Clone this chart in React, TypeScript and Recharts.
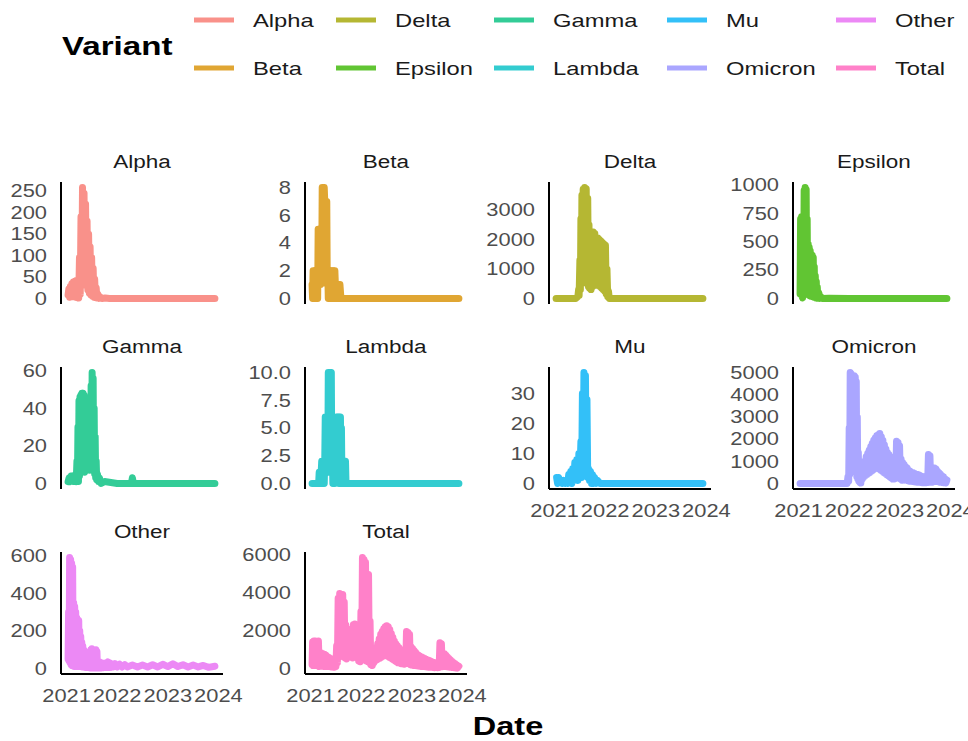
import React from 'react';
import { LineChart, Line, XAxis, YAxis } from 'recharts';

type Pt = [number, number];

// ---- data -------------------------------------------------------------
const variants = ['Alpha', 'Beta', 'Delta', 'Epsilon', 'Gamma', 'Lambda', 'Mu', 'Omicron', 'Other', 'Total'];
const variantColors = ['#F8766D', '#D89000', '#A3A500', '#39B600', '#00BF7D', '#00BFC4', '#00B0F6', '#9590FF', '#E76BF3', '#FF62BC'];

const yearTicks = [2021, 2022, 2023, 2024];

const alphaTicks = [0, 50, 100, 150, 200, 250];
const betaTicks = [0, 2, 4, 6, 8];
const deltaTicks = [0, 1000, 2000, 3000];
const epsilonTicks = [0, 250, 500, 750, 1000];
const gammaTicks = [0, 20, 40, 60];
const lambdaTicks = [0, 2.5, 5, 7.5, 10];
const muTicks = [0, 10, 20, 30];
const omicronTicks = [0, 1000, 2000, 3000, 4000, 5000];
const otherTicks = [0, 200, 400, 600];
const totalTicks = [0, 2000, 4000, 6000];

// [decimal year, sequences]
const alpha: Pt[] = [
  [2021.03, 8], [2021.045, 22], [2021.06, 3], [2021.075, 28], [2021.09, 5], [2021.105, 34], [2021.12, 4],
  [2021.135, 38], [2021.15, 6], [2021.165, 40], [2021.18, 3], [2021.195, 42], [2021.21, 2], [2021.225, 40],
  [2021.24, 1], [2021.255, 95], [2021.27, 10], [2021.285, 190], [2021.3, 35], [2021.315, 258], [2021.33, 50],
  [2021.345, 245], [2021.36, 45], [2021.375, 220], [2021.39, 30], [2021.405, 180], [2021.42, 20], [2021.435, 150],
  [2021.45, 12], [2021.465, 120], [2021.48, 8], [2021.495, 95], [2021.51, 5], [2021.525, 70], [2021.54, 3],
  [2021.555, 45], [2021.57, 2], [2021.585, 25], [2021.6, 1], [2021.62, 10], [2021.64, 0], [2021.67, 3],
  [2021.7, 0], [2021.76, 1], [2021.85, 0], [2022.3, 0], [2022.9, 0], [2023.4, 0], [2023.93, 0],
];

const beta: Pt[] = [
  [2021.03, 1], [2021.04, 0], [2021.05, 2], [2021.06, 0], [2021.07, 2], [2021.08, 1], [2021.09, 2], [2021.1, 0],
  [2021.11, 2], [2021.12, 1], [2021.13, 2], [2021.14, 0], [2021.15, 5], [2021.16, 1], [2021.17, 5], [2021.18, 2],
  [2021.19, 5], [2021.2, 1], [2021.21, 5], [2021.22, 2], [2021.23, 8], [2021.24, 3], [2021.25, 8], [2021.26, 2],
  [2021.27, 8], [2021.28, 7], [2021.29, 3], [2021.3, 7], [2021.31, 2], [2021.32, 7], [2021.33, 1], [2021.34, 2],
  [2021.35, 0], [2021.36, 2], [2021.37, 1], [2021.38, 2], [2021.39, 0], [2021.4, 2], [2021.41, 1], [2021.42, 2],
  [2021.43, 0], [2021.44, 2], [2021.45, 1], [2021.46, 2], [2021.47, 0], [2021.48, 2], [2021.49, 1], [2021.5, 1],
  [2021.51, 0], [2021.52, 1], [2021.53, 0], [2021.54, 1], [2021.55, 0], [2021.56, 1], [2021.57, 0], [2021.58, 1],
  [2021.6, 0], [2022.2, 0], [2023.0, 0], [2023.93, 0],
];

const delta: Pt[] = [
  [2021.03, 0], [2021.2, 0], [2021.42, 0], [2021.46, 60], [2021.475, 300], [2021.485, 100], [2021.5, 1300],
  [2021.51, 300], [2021.52, 2700], [2021.53, 500], [2021.54, 3500], [2021.55, 600], [2021.565, 3700],
  [2021.58, 700], [2021.595, 3760], [2021.61, 600], [2021.625, 3720], [2021.64, 500], [2021.655, 3400],
  [2021.67, 400], [2021.68, 2500], [2021.69, 350], [2021.705, 1600], [2021.72, 300], [2021.735, 2150],
  [2021.75, 400], [2021.765, 2250], [2021.78, 450], [2021.795, 2200], [2021.81, 500], [2021.825, 1900],
  [2021.84, 450], [2021.855, 2050], [2021.87, 500], [2021.885, 2000], [2021.9, 400], [2021.915, 1950],
  [2021.93, 350], [2021.945, 1900], [2021.96, 300], [2021.975, 1850], [2021.99, 250], [2022.005, 1800],
  [2022.02, 150], [2022.035, 1000], [2022.05, 60], [2022.065, 250], [2022.08, 0], [2022.5, 0], [2023.2, 0],
  [2023.93, 0],
];

const epsilon: Pt[] = [
  [2021.03, 40], [2021.04, 700], [2021.05, 50], [2021.06, 720], [2021.07, 20], [2021.08, 5], [2021.09, 300],
  [2021.1, 30], [2021.11, 950], [2021.12, 60], [2021.13, 977], [2021.14, 80], [2021.15, 960], [2021.16, 50],
  [2021.17, 700], [2021.18, 40], [2021.19, 480], [2021.2, 30], [2021.21, 450], [2021.22, 25], [2021.23, 420],
  [2021.24, 20], [2021.25, 390], [2021.26, 20], [2021.27, 380], [2021.28, 15], [2021.29, 360], [2021.3, 10],
  [2021.31, 280], [2021.32, 8], [2021.33, 200], [2021.34, 5], [2021.35, 150], [2021.36, 3], [2021.37, 100],
  [2021.38, 2], [2021.4, 50], [2021.42, 1], [2021.44, 15], [2021.47, 0], [2021.6, 2], [2022.0, 0],
  [2022.8, 0], [2023.5, 0], [2023.93, 0],
];

const gamma: Pt[] = [
  [2021.03, 1], [2021.05, 3], [2021.07, 1], [2021.09, 4], [2021.11, 2], [2021.13, 4], [2021.15, 1], [2021.17, 3],
  [2021.19, 1], [2021.205, 12], [2021.215, 2], [2021.225, 30], [2021.235, 1], [2021.245, 44], [2021.255, 4],
  [2021.265, 46], [2021.275, 6], [2021.285, 47], [2021.295, 8], [2021.305, 48], [2021.315, 7], [2021.325, 48],
  [2021.335, 8], [2021.345, 47], [2021.355, 6], [2021.365, 46], [2021.375, 7], [2021.385, 44], [2021.395, 8],
  [2021.405, 36], [2021.415, 9], [2021.425, 30], [2021.435, 8], [2021.445, 42], [2021.455, 7], [2021.465, 38],
  [2021.475, 9], [2021.485, 52], [2021.495, 8], [2021.505, 59], [2021.515, 10], [2021.525, 56], [2021.535, 8],
  [2021.545, 40], [2021.555, 5], [2021.565, 25], [2021.575, 3], [2021.585, 12], [2021.595, 2], [2021.61, 5],
  [2021.63, 1], [2021.65, 3], [2021.68, 0], [2021.75, 1], [2022.0, 0], [2022.28, 0], [2022.3, 3], [2022.32, 0],
  [2022.8, 0], [2023.93, 0],
];

const lambda: Pt[] = [
  [2021.03, 0], [2021.1, 0], [2021.16, 0], [2021.17, 1], [2021.18, 0], [2021.19, 1], [2021.2, 0], [2021.21, 1],
  [2021.22, 2], [2021.23, 0], [2021.24, 2], [2021.25, 1], [2021.26, 2], [2021.27, 0], [2021.28, 2], [2021.29, 6],
  [2021.3, 1], [2021.31, 6], [2021.32, 2], [2021.33, 6], [2021.34, 1], [2021.35, 10], [2021.36, 2], [2021.37, 10],
  [2021.38, 1], [2021.39, 10], [2021.4, 2], [2021.41, 10], [2021.42, 1], [2021.43, 3], [2021.44, 0], [2021.45, 2],
  [2021.46, 1], [2021.47, 3], [2021.48, 0], [2021.49, 2], [2021.5, 1], [2021.51, 6], [2021.52, 1], [2021.53, 6],
  [2021.54, 2], [2021.55, 6], [2021.56, 0], [2021.57, 6], [2021.58, 1], [2021.59, 6], [2021.6, 2], [2021.61, 5],
  [2021.62, 0], [2021.63, 2], [2021.64, 1], [2021.65, 2], [2021.66, 0], [2021.67, 2], [2021.68, 1], [2021.69, 2],
  [2021.7, 0], [2022.0, 0], [2022.8, 0], [2023.93, 0],
];

const mu: Pt[] = [
  [2021.04, 2], [2021.06, 0], [2021.08, 2], [2021.1, 1], [2021.12, 1], [2021.15, 0], [2021.18, 1], [2021.21, 0],
  [2021.24, 1], [2021.26, 0], [2021.28, 3], [2021.3, 1], [2021.32, 4], [2021.34, 0], [2021.36, 5], [2021.38, 1],
  [2021.4, 7], [2021.42, 2], [2021.44, 8], [2021.46, 1], [2021.48, 10], [2021.5, 3], [2021.52, 14], [2021.535, 2],
  [2021.55, 30], [2021.565, 4], [2021.58, 37], [2021.595, 5], [2021.61, 36], [2021.625, 3], [2021.64, 28],
  [2021.655, 2], [2021.67, 5], [2021.69, 1], [2021.71, 4], [2021.73, 0], [2021.75, 3], [2021.77, 0],
  [2021.79, 2], [2021.82, 0], [2021.85, 1], [2021.9, 0], [2022.0, 0], [2022.5, 0], [2023.0, 0], [2023.93, 0],
];

const omicron: Pt[] = [
  [2021.03, 0], [2021.5, 0], [2021.96, 0], [2021.975, 300], [2021.99, 100], [2022.0, 2500], [2022.01, 400],
  [2022.02, 5000], [2022.03, 800], [2022.04, 4950], [2022.05, 900], [2022.06, 4700], [2022.07, 700],
  [2022.08, 4850], [2022.09, 800], [2022.1, 4850], [2022.11, 600], [2022.12, 4800], [2022.13, 500],
  [2022.14, 4600], [2022.15, 300], [2022.16, 3000], [2022.17, 200], [2022.18, 1400], [2022.19, 100],
  [2022.2, 800], [2022.21, 50], [2022.22, 600], [2022.23, 20], [2022.245, 700], [2022.26, 200], [2022.275, 800],
  [2022.29, 300], [2022.305, 1000], [2022.32, 350], [2022.335, 1200], [2022.35, 400], [2022.365, 1350],
  [2022.38, 450], [2022.395, 1500], [2022.41, 500], [2022.425, 1650], [2022.44, 550], [2022.455, 1800],
  [2022.47, 600], [2022.485, 1950], [2022.5, 650], [2022.515, 2050], [2022.53, 700], [2022.545, 2150],
  [2022.56, 700], [2022.575, 2200], [2022.59, 650], [2022.605, 2250], [2022.62, 600], [2022.635, 2100],
  [2022.65, 550], [2022.665, 1950], [2022.68, 500], [2022.695, 1750], [2022.71, 450], [2022.725, 1550],
  [2022.74, 400], [2022.755, 1400], [2022.77, 350], [2022.785, 1300], [2022.8, 300], [2022.815, 1200],
  [2022.83, 250], [2022.845, 1050], [2022.86, 200], [2022.875, 900], [2022.89, 200], [2022.905, 800],
  [2022.92, 250], [2022.935, 1900], [2022.95, 300], [2022.965, 1850], [2022.98, 250], [2022.995, 1700],
  [2023.01, 200], [2023.025, 1100], [2023.04, 150], [2023.055, 950], [2023.07, 150], [2023.085, 850],
  [2023.1, 150], [2023.115, 750], [2023.13, 150], [2023.145, 700], [2023.16, 120], [2023.175, 600],
  [2023.19, 100], [2023.205, 550], [2023.22, 100], [2023.235, 500], [2023.25, 90], [2023.265, 480],
  [2023.28, 80], [2023.295, 450], [2023.31, 70], [2023.325, 420], [2023.34, 60], [2023.355, 400], [2023.37, 50],
  [2023.385, 380], [2023.4, 50], [2023.415, 350], [2023.43, 40], [2023.445, 320], [2023.46, 30], [2023.475, 300],
  [2023.49, 30], [2023.505, 280], [2023.52, 30], [2023.535, 300], [2023.55, 40], [2023.565, 1300], [2023.58, 80],
  [2023.595, 1250], [2023.61, 60], [2023.625, 400], [2023.64, 50], [2023.655, 500], [2023.67, 80],
  [2023.685, 700], [2023.7, 100], [2023.715, 650], [2023.73, 90], [2023.745, 550], [2023.76, 80],
  [2023.775, 480], [2023.79, 60], [2023.805, 420], [2023.82, 50], [2023.835, 350], [2023.85, 40],
  [2023.865, 300], [2023.88, 30], [2023.895, 220], [2023.91, 20], [2023.93, 150],
];

const other: Pt[] = [
  [2021.03, 50], [2021.04, 300], [2021.05, 40], [2021.06, 590], [2021.07, 30], [2021.08, 580], [2021.09, 20],
  [2021.1, 560], [2021.11, 15], [2021.12, 540], [2021.13, 20], [2021.14, 350], [2021.15, 10], [2021.16, 330],
  [2021.17, 15], [2021.18, 300], [2021.19, 10], [2021.2, 270], [2021.21, 20], [2021.22, 260], [2021.23, 15],
  [2021.24, 255], [2021.25, 10], [2021.26, 200], [2021.27, 15], [2021.28, 170], [2021.29, 10], [2021.3, 140],
  [2021.31, 8], [2021.32, 120], [2021.33, 10], [2021.34, 100], [2021.35, 8], [2021.36, 90], [2021.37, 6],
  [2021.38, 80], [2021.39, 5], [2021.4, 70], [2021.41, 5], [2021.42, 60], [2021.43, 5], [2021.44, 50],
  [2021.45, 4], [2021.46, 60], [2021.47, 3], [2021.48, 100], [2021.49, 4], [2021.5, 105], [2021.51, 3],
  [2021.52, 60], [2021.53, 2], [2021.54, 50], [2021.55, 3], [2021.56, 95], [2021.57, 2], [2021.58, 100],
  [2021.59, 3], [2021.6, 90], [2021.61, 2], [2021.62, 40], [2021.64, 3], [2021.66, 35], [2021.68, 2],
  [2021.7, 30], [2021.72, 4], [2021.74, 28], [2021.76, 5], [2021.78, 30], [2021.8, 6], [2021.82, 35],
  [2021.84, 5], [2021.86, 30], [2021.88, 6], [2021.9, 25], [2021.93, 8], [2021.96, 25], [2022.0, 8],
  [2022.05, 22], [2022.1, 8], [2022.15, 20], [2022.2, 8], [2022.3, 18], [2022.4, 8], [2022.5, 18], [2022.6, 8],
  [2022.7, 20], [2022.8, 8], [2022.9, 22], [2023.0, 10], [2023.1, 25], [2023.2, 10], [2023.3, 20], [2023.4, 8],
  [2023.5, 18], [2023.6, 8], [2023.7, 16], [2023.8, 6], [2023.93, 12],
];

const total: Pt[] = [
  [2021.03, 200], [2021.04, 1400], [2021.05, 150], [2021.065, 1450], [2021.08, 200], [2021.095, 1450],
  [2021.11, 150], [2021.125, 1400], [2021.14, 200], [2021.155, 1450], [2021.17, 100], [2021.185, 850],
  [2021.2, 150], [2021.215, 820], [2021.23, 120], [2021.245, 780], [2021.26, 100], [2021.275, 750],
  [2021.29, 120], [2021.305, 700], [2021.32, 100], [2021.335, 620], [2021.35, 120], [2021.365, 580],
  [2021.38, 100], [2021.395, 520], [2021.41, 80], [2021.425, 480], [2021.44, 90], [2021.455, 300],
  [2021.47, 60], [2021.485, 420], [2021.5, 100], [2021.515, 1200], [2021.53, 300], [2021.545, 3700],
  [2021.56, 600], [2021.575, 3950], [2021.59, 650], [2021.605, 3900], [2021.62, 700], [2021.635, 3900],
  [2021.65, 600], [2021.665, 3500], [2021.68, 550], [2021.695, 2300], [2021.71, 500], [2021.725, 2100],
  [2021.74, 600], [2021.755, 2000], [2021.77, 650], [2021.785, 1950], [2021.8, 600], [2021.815, 2000],
  [2021.83, 550], [2021.845, 2300], [2021.86, 600], [2021.875, 2350], [2021.89, 650], [2021.905, 2300],
  [2021.92, 550], [2021.935, 2250], [2021.95, 400], [2021.965, 900], [2021.98, 350], [2021.995, 3000],
  [2022.01, 500], [2022.025, 5850], [2022.04, 600], [2022.055, 5750], [2022.07, 550], [2022.085, 5600],
  [2022.1, 400], [2022.115, 5000], [2022.13, 350], [2022.145, 4950], [2022.16, 300], [2022.175, 2500],
  [2022.19, 200], [2022.205, 1000], [2022.22, 150], [2022.235, 750], [2022.25, 300], [2022.265, 900],
  [2022.28, 400], [2022.295, 1100], [2022.31, 450], [2022.325, 1300], [2022.34, 500], [2022.355, 1550],
  [2022.37, 550], [2022.385, 1800], [2022.4, 600], [2022.415, 1950], [2022.43, 650], [2022.445, 2100],
  [2022.46, 700], [2022.475, 2200], [2022.49, 700], [2022.505, 2250], [2022.52, 650], [2022.535, 2200],
  [2022.55, 600], [2022.565, 2050], [2022.58, 550], [2022.595, 1850], [2022.61, 500], [2022.625, 1650],
  [2022.64, 450], [2022.655, 1450], [2022.67, 400], [2022.685, 1300], [2022.7, 350], [2022.715, 1200],
  [2022.73, 300], [2022.745, 1100], [2022.76, 280], [2022.775, 1000], [2022.79, 250], [2022.805, 950],
  [2022.82, 250], [2022.835, 900], [2022.85, 220], [2022.865, 800], [2022.88, 250], [2022.895, 1950],
  [2022.91, 300], [2022.925, 1900], [2022.94, 250], [2022.955, 1800], [2022.97, 200], [2022.985, 1150],
  [2023.0, 180], [2023.015, 1050], [2023.03, 160], [2023.045, 950], [2023.06, 150], [2023.075, 850],
  [2023.09, 140], [2023.105, 750], [2023.12, 130], [2023.135, 700], [2023.15, 120], [2023.165, 650],
  [2023.18, 110], [2023.195, 600], [2023.21, 100], [2023.225, 560], [2023.24, 100], [2023.255, 520],
  [2023.27, 90], [2023.285, 480], [2023.3, 80], [2023.315, 450], [2023.33, 70], [2023.345, 420], [2023.36, 60],
  [2023.375, 400], [2023.39, 60], [2023.405, 350], [2023.42, 50], [2023.435, 320], [2023.45, 40],
  [2023.465, 300], [2023.48, 50], [2023.495, 300], [2023.51, 40], [2023.525, 280], [2023.54, 50],
  [2023.555, 1350], [2023.57, 100], [2023.585, 1300], [2023.6, 90], [2023.615, 500], [2023.63, 110],
  [2023.645, 780], [2023.66, 100], [2023.675, 700], [2023.69, 90], [2023.705, 600], [2023.72, 80],
  [2023.735, 520], [2023.75, 70], [2023.765, 450], [2023.78, 60], [2023.795, 380], [2023.81, 50],
  [2023.825, 320], [2023.84, 40], [2023.855, 260], [2023.87, 30], [2023.885, 200], [2023.9, 20], [2023.93, 120],
];

const seriesByVariant: Pt[][] = [alpha, beta, delta, epsilon, gamma, lambda, mu, omicron, other, total];
const ticksByVariant: number[][] = [
  alphaTicks, betaTicks, deltaTicks, epsilonTicks, gammaTicks,
  lambdaTicks, muTicks, omicronTicks, otherTicks, totalTicks,
];
const tickDecimals = [0, 0, 0, 0, 0, 1, 0, 0, 0, 0];

// ---- layout -----------------------------------------------------------
const FONT = '"Liberation Sans", Arial, Helvetica, sans-serif';
const STRETCH = 1.25; // text is drawn slightly wide
const PANEL_W = 162;
const PANEL_H = 122;
const AXIS_W = 80;
const X_AXIS_H = 40;
const PAD_T = 14; // room above each panel so the top tick label is not clipped
const PAD_R = 34; // room to the right for the last year label
const COL_LEFT = [61, 305, 549, 793];
const ROW_TOP = [182, 367, 552];
const X_DOMAIN: [number, number] = [2020.89, 2024.09];
const BOTTOM_PANELS = new Set(['Mu', 'Omicron', 'Other', 'Total']);

const stretchAt = (x: number) => `matrix(${STRETCH} 0 0 1 ${(1 - STRETCH) * x} 0)`;

function YTick(props: any) {
  const { x, y, payload, decimals } = props;
  const label = decimals ? Number(payload.value).toFixed(decimals) : String(payload.value);
  return (
    <text x={x} y={y} dy={6.3} textAnchor="end" fontSize={17.5} fill="#4D4D4D" fontFamily={FONT} transform={stretchAt(x)}>
      {label}
    </text>
  );
}

function XTick(props: any) {
  const { x, y, payload } = props;
  return (
    <text x={x} y={y + 28} textAnchor="middle" fontSize={17.5} fill="#4D4D4D" fontFamily={FONT} transform={stretchAt(x)}>
      {String(payload.value)}
    </text>
  );
}

function Panel({ index }: { index: number }) {
  const name = variants[index];
  const color = variantColors[index];
  const series = seriesByVariant[index];
  const data = series.map(([t, v]) => ({ t, v }));
  const maxV = Math.max(...series.map((p) => p[1]));
  const yDomain: [number, number] = [-0.05 * maxV, 1.05 * maxV];
  const row = Math.floor(index / 4);
  const col = index % 4;
  const bottom = BOTTOM_PANELS.has(name);
  const decimals = tickDecimals[index];

  return (
    <div style={{ position: 'absolute', left: COL_LEFT[col] - AXIS_W, top: ROW_TOP[row] - PAD_T }}>
      <LineChart
        width={AXIS_W + PANEL_W + PAD_R}
        height={PAD_T + PANEL_H + (bottom ? X_AXIS_H : 6)}
        data={data}
        margin={{ top: PAD_T, right: PAD_R, bottom: bottom ? 0 : 6, left: 0 }}
        style={{ overflow: 'visible' }}
      >
        <XAxis
          type="number"
          dataKey="t"
          domain={X_DOMAIN}
          ticks={yearTicks}
          interval={0}
          hide={!bottom}
          height={bottom ? X_AXIS_H : 0}
          axisLine={{ stroke: '#000000', strokeWidth: 2 }}
          tickLine={false}
          tickSize={0}
          tickMargin={0}
          tick={(p: any) => <XTick {...p} />}
        />
        <YAxis
          type="number"
          domain={yDomain}
          ticks={ticksByVariant[index]}
          interval={0}
          width={AXIS_W}
          axisLine={{ stroke: '#000000', strokeWidth: 2 }}
          tickLine={false}
          tickSize={0}
          tickMargin={14}
          tick={(p: any) => <YTick {...p} decimals={decimals} />}
        />
        <Line
          type="linear"
          dataKey="v"
          stroke={color}
          strokeOpacity={0.8}
          strokeWidth={7}
          strokeLinejoin="round"
          strokeLinecap="round"
          dot={false}
          activeDot={false}
          isAnimationActive={false}
        />
      </LineChart>
    </div>
  );
}

// legend columns, filled top to bottom
const legendKeyX = [194, 336, 494, 667, 836];
const legendRowY = [20, 68];

export default function App() {
  return (
    <div style={{ position: 'absolute', left: 0, top: 0, width: 968, height: 741, background: '#FFFFFF', overflow: 'hidden' }}>
      <svg width={968} height={741} style={{ position: 'absolute', left: 0, top: 0 }}>
        <text x={62} y={55} fontSize={26.5} fontWeight="bold" fill="#000000" fontFamily={FONT} transform={stretchAt(62)}>
          Variant
        </text>
        {variants.map((name, i) => {
          const kx = legendKeyX[Math.floor(i / 2)];
          const ky = legendRowY[i % 2];
          return (
            <g key={name}>
              <line x1={kx} x2={kx + 40} y1={ky} y2={ky} stroke={variantColors[i]} strokeOpacity={0.8} strokeWidth={5} />
              <text x={kx + 59} y={ky + 6.8} fontSize={19} fill="#1A1A1A" fontFamily={FONT} transform={stretchAt(kx + 59)}>
                {name}
              </text>
            </g>
          );
        })}
        {variants.map((name, i) => {
          const cx = COL_LEFT[i % 4] + PANEL_W / 2;
          const by = ROW_TOP[Math.floor(i / 4)] - 14;
          return (
            <text key={name} x={cx} y={by} textAnchor="middle" fontSize={18} fill="#1A1A1A" fontFamily={FONT} transform={stretchAt(cx)}>
              {name}
            </text>
          );
        })}
        <text x={508} y={735} textAnchor="middle" fontSize={26} fontWeight="bold" fill="#000000" fontFamily={FONT} transform={stretchAt(508)}>
          Date
        </text>
      </svg>
      {variants.map((name, i) => (
        <Panel key={name} index={i} />
      ))}
    </div>
  );
}
